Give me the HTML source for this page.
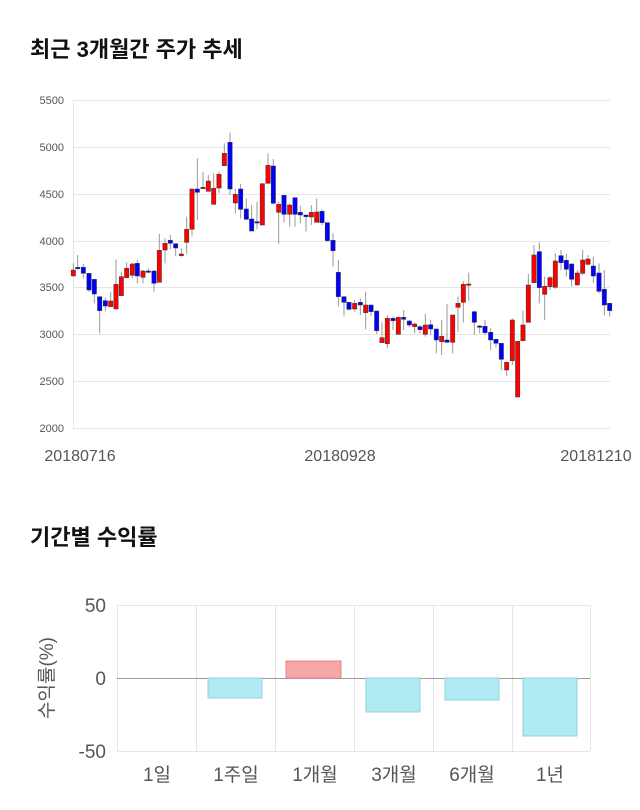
<!DOCTYPE html>
<html><head><meta charset="utf-8"><style>
body{margin:0;background:#fff;width:640px;height:810px;overflow:hidden;font-family:"Liberation Sans","Noto Sans CJK KR",sans-serif}
.t{position:absolute;left:30px;font-size:22px;font-weight:bold;color:#111}
</style></head><body>
<div class="t" style="top:32px">최근 3개월간 주가 추세</div>
<div class="t" style="top:520px">기간별 수익률</div>
<svg id="s" width="640" height="810" style="position:absolute;left:0;top:0" font-family="Liberation Sans,Noto Sans CJK KR,sans-serif">
<g stroke="#e6e6e6" stroke-width="1">
<line x1="73" x2="610" y1="100.5" y2="100.5"/><line x1="73" x2="610" y1="147.5" y2="147.5"/>
<line x1="73" x2="610" y1="194.5" y2="194.5"/><line x1="73" x2="610" y1="241.5" y2="241.5"/>
<line x1="73" x2="610" y1="287.5" y2="287.5"/><line x1="73" x2="610" y1="334.5" y2="334.5"/>
<line x1="73" x2="610" y1="381.5" y2="381.5"/><line x1="73" x2="610" y1="428.5" y2="428.5"/>
<line x1="73.5" x2="73.5" y1="100" y2="428"/>
</g>
<g font-size="11" fill="#555" text-anchor="end">
<text x="64" y="104">5500</text><text x="64" y="151">5000</text><text x="64" y="198">4500</text>
<text x="64" y="245">4000</text><text x="64" y="291">3500</text><text x="64" y="338">3000</text>
<text x="64" y="385">2500</text><text x="64" y="432">2000</text>
</g>
<g font-size="16" fill="#555" text-anchor="middle">
<text x="80" y="461">20180716</text><text x="340" y="461">20180928</text><text x="596" y="461">20181210</text>
</g>
<g id="c1" transform="translate(60,90) scale(0.33333)"></g>
<g id="c2" transform="translate(340,90) scale(0.33333)"></g>

<g stroke="#e6e6e6">
<line x1="117" x2="590" y1="605.5" y2="605.5"/><line x1="117" x2="590" y1="751.5" y2="751.5"/>
<line x1="117.5" x2="117.5" y1="605" y2="751"/><line x1="196.5" x2="196.5" y1="605" y2="751"/>
<line x1="275.5" x2="275.5" y1="605" y2="751"/><line x1="354.5" x2="354.5" y1="605" y2="751"/>
<line x1="433.5" x2="433.5" y1="605" y2="751"/><line x1="512.5" x2="512.5" y1="605" y2="751"/>
<line x1="590.5" x2="590.5" y1="605" y2="751"/>
</g>
<line x1="117" x2="590" y1="678.5" y2="678.5" stroke="#999"/>
<g stroke-width="1">
<rect x="208" y="678" width="54" height="20" fill="#b0ebf3" stroke="#8fd3dd"/>
<rect x="286" y="661" width="55" height="17" fill="#f7a6a6" stroke="#e08a8a"/>
<rect x="366" y="678" width="54" height="34" fill="#b0ebf3" stroke="#8fd3dd"/>
<rect x="445" y="678" width="54" height="22" fill="#b0ebf3" stroke="#8fd3dd"/>
<rect x="523" y="678" width="54" height="58" fill="#b0ebf3" stroke="#8fd3dd"/>
</g>
<g font-size="19" fill="#555" text-anchor="end">
<text x="106" y="612">50</text><text x="106" y="685">0</text><text x="106" y="758">-50</text>
</g>
<text transform="translate(53,678) rotate(-90)" font-size="19" fill="#555" text-anchor="middle">수익률(%)</text>
<g font-size="19" fill="#555" text-anchor="middle">
<text x="157" y="781">1일</text><text x="236" y="781">1주일</text><text x="315" y="781">1개월</text>
<text x="394" y="781">3개월</text><text x="472" y="781">6개월</text><text x="550" y="781">1년</text>
</g>
</svg>
<script>
var A=[[40,540,558,520,560,'r'],[53,532,536,495,540,'b'],[70,532,550,522,565,'b'],[87,550,600,550,605,'b'],[103,568,612,568,640,'b'],[119,620,662,620,730,'b'],[136,632,648,622,665,'b'],[152,633,650,605,650,'r'],[168,583,657,508,657,'r'],[184,560,617,545,617,'r'],[200,535,563,517,565,'r'],[217,522,556,518,565,'r'],[232,520,558,510,580,'b'],[249,543,562,540,580,'r'],[265,543,545,535,550,'b'],[282,543,580,540,605,'b'],[298,481,577,432,577,'r'],[315,460,480,445,520,'r'],[331,451,460,435,478,'b'],[347,461,474,461,498,'b'],[364,492,497,475,500,'r'],[380,418,457,380,492,'r'],[396,297,418,297,437,'r'],[412,297,307,205,390,'b'],[429,292,295,245,295,'r'],[445,273,304,255,305,'r'],[461,295,343,250,343,'r'],[477,253,294,245,310,'r'],[493,190,227,160,227,'r'],[510,157,297,128,315,'b'],[526,313,339,295,370,'r'],[542,297,358,282,385,'b'],[559,357,388,325,390,'b'],[575,387,423,345,423,'b'],[591,395,397,335,418,'b'],[607,281,405,280,405,'r'],[624,226,280,190,280,'r'],[640,228,340,207,343,'b'],[656,343,367,335,462,'r'],[672,316,373,316,397,'b'],[689,345,373,340,410,'r'],[705,323,373,323,410,'b'],[721,367,375,347,400,'b'],[738,375,380,375,425,'b'],[754,367,381,345,405,'r'],[770,366,397,325,397,'r'],[786,364,398,358,405,'b'],[802,398,452,398,455,'b'],[819,451,482,430,530,'b'],[835,547,620,510,650,'b']];
var B=[[12,620,637,620,677,'b'],[27,637,658,637,662,'b'],[44,640,657,630,665,'r'],[61,637,645,625,675,'b'],[77,645,668,605,718,'r'],[93,645,665,645,678,'b'],[110,663,722,663,732,'b'],[126,743,758,697,758,'r'],[142,685,761,675,775,'r'],[159,685,692,680,720,'b'],[175,682,733,680,733,'r'],[191,682,688,660,720,'b'],[208,693,705,690,712,'b'],[224,702,710,698,730,'r'],[240,710,719,705,730,'b'],[256,705,733,672,740,'r'],[272,704,717,690,735,'b'],[289,717,750,717,790,'b'],[305,739,755,690,795,'r'],[321,750,757,642,757,'b'],[338,675,757,675,790,'r'],[354,640,652,620,725,'r'],[370,583,637,573,697,'r'],[386,582,586,548,632,'r'],[403,665,697,662,735,'b'],[419,708,710,705,730,'b'],[435,709,728,690,735,'b'],[452,727,750,715,780,'b'],[468,748,760,748,772,'b'],[484,760,808,760,840,'b'],[500,817,840,817,858,'r'],[517,690,812,685,825,'r'],[533,754,921,754,921,'r'],[549,705,752,662,752,'r'],[565,585,697,552,697,'r'],[582,495,578,465,578,'r'],[598,485,593,457,640,'b'],[614,589,613,560,690,'r'],[630,563,590,558,600,'r'],[646,513,592,490,597,'r'],[663,497,518,480,540,'b'],[679,511,538,491,560,'b'],[695,522,568,520,590,'b'],[712,549,585,540,585,'r'],[728,510,550,480,555,'r'],[744,507,523,495,527,'r'],[760,528,558,500,578,'b'],[777,549,604,520,610,'b'],[793,598,645,540,676,'b'],[809,640,662,640,680,'b']];
function draw(id,D){var g=document.getElementById(id),h='';D.forEach(function(c){var x=c[0];h+='<line x1="'+x+'" x2="'+x+'" y1="'+c[3]+'" y2="'+c[4]+'" stroke="#999" stroke-width="3"/>';var hh=Math.max(c[2]-c[1],4);h+='<rect x="'+(x-6.5)+'" y="'+c[1]+'" width="13" height="'+hh+'" fill="'+(c[5]=='r'?'#f00':'#00f')+'" stroke="#333" stroke-width="1.5"/>';});g.innerHTML=h;}
draw('c1',A);draw('c2',B);
</script>
</body></html>
